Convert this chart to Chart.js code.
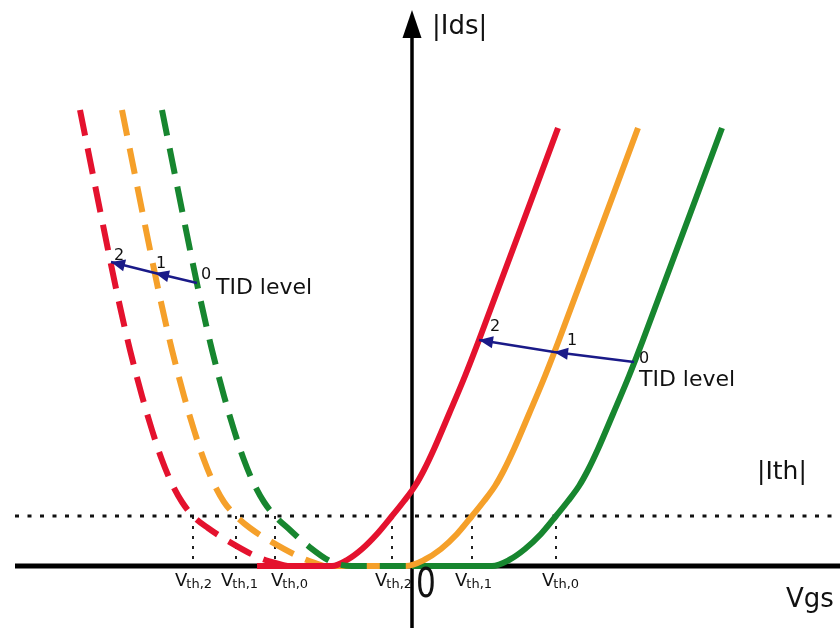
<!DOCTYPE html>
<html>
<head>
<meta charset="utf-8">
<script src="https://cdn.jsdelivr.net/npm/chart.js@4.4.1/dist/chart.umd.min.js"></script>
<style>
  html, body { margin: 0; padding: 0; background: #ffffff; }
  canvas { display: block; }
</style>
</head>
<body>
<canvas id="c" width="840" height="628"></canvas>
<script>
// Transfer curves |Ids| vs Vgs for three TID levels (arbitrary units).
// Solid: n-type branch, dashed: p-type branch.
const ithLevel = 0.5;                 // threshold current |Ith|
const tidLevels = ['0', '1', '2'];

// p-type branches (dashed), [Vgs, |Ids|]
const pTid0 = [[-2.50,4.56],[-2.28,3.46],[-2.13,2.73],[-2.00,2.16],[-1.88,1.70],[-1.78,1.36],[-1.68,1.06],[-1.58,0.82],[-1.48,0.64],[-1.37,0.50],[-1.22,0.36],[-1.05,0.21],[-0.80,0.04],[-0.60,0.00],[0.00,0.00]];
const pTid1 = [[-2.90,4.56],[-2.68,3.46],[-2.53,2.73],[-2.40,2.16],[-2.28,1.70],[-2.18,1.36],[-2.08,1.06],[-1.98,0.82],[-1.88,0.64],[-1.76,0.50],[-1.62,0.38],[-1.42,0.25],[-1.10,0.08],[-0.88,0.00]];
const pTid2 = [[-3.32,4.56],[-3.10,3.46],[-2.95,2.73],[-2.82,2.16],[-2.70,1.70],[-2.60,1.36],[-2.50,1.06],[-2.40,0.82],[-2.30,0.64],[-2.19,0.50],[-2.04,0.38],[-1.84,0.25],[-1.52,0.08],[-1.25,0.00]];

// n-type branches (solid), [Vgs, |Ids|]
const nTid0 = [[0.00,0.00],[0.80,0.00],[0.97,0.06],[1.13,0.17],[1.29,0.32],[1.44,0.50],[1.56,0.65],[1.67,0.80],[1.76,0.96],[1.86,1.17],[2.01,1.52],[2.17,1.90],[2.31,2.26],[3.10,4.38]];
const nTid1 = [[-1.00,0.00],[-0.06,0.00],[0.12,0.06],[0.29,0.17],[0.45,0.32],[0.60,0.50],[0.72,0.65],[0.83,0.80],[0.92,0.96],[1.02,1.17],[1.17,1.52],[1.33,1.90],[1.47,2.26],[2.26,4.38]];
const nTid2 = [[-1.55,0.00],[-0.80,0.00],[-0.65,0.06],[-0.50,0.17],[-0.35,0.32],[-0.20,0.50],[-0.08,0.65],[0.03,0.80],[0.12,0.96],[0.22,1.17],[0.37,1.52],[0.53,1.90],[0.67,2.26],[1.46,4.38]];

// threshold voltages where each branch crosses |Ith|
const vthP = [-1.37, -1.76, -2.19];   // TID 0, 1, 2
const vthN = [1.44, 0.60, -0.20];     // TID 0, 1, 2
const vthTags = ['th,0', 'th,1', 'th,2'];

// TID arrows: points on the TID 0 -> 1 -> 2 curves
const tidArrowP = [[-2.15,2.83],[-2.57,2.93],[-3.01,3.04]];
const tidArrowN = [[2.22,2.04],[1.42,2.14],[0.67,2.26]];

const axisLeft = -3.97, axisRight = 4.28, axisTop = 5.56;

const RED = '#e4122e', ORANGE = '#f5a02a', GREEN = '#17862f', NAVY = '#1a1a88';
const pts = a => a.map(p => ({ x: p[0], y: p[1] }));

function curve(data, color, dashed, order) {
  return {
    data: pts(data), borderColor: color, borderWidth: 6,
    borderDash: dashed ? [26, 13] : [], pointRadius: 0,
    cubicInterpolationMode: 'monotone', order: order, fill: false
  };
}
function guide(data, color, width, dash, order) {
  return { data: pts(data), borderColor: color, borderWidth: width, borderDash: dash,
           pointRadius: 0, tension: 0, order: order, fill: false };
}

const datasets = [
  curve(pTid0, GREEN, true, 1),
  curve(nTid2, RED, false, 2),
  curve(nTid1, ORANGE, false, 3),
  curve(nTid0, GREEN, false, 4),
  curve(pTid1, ORANGE, true, 5),
  curve(pTid2, RED, true, 6),
  guide(tidArrowP, NAVY, 2.5, [], 0),
  guide(tidArrowN, NAVY, 2.5, [], 0),
  guide([[axisLeft, ithLevel], [axisRight, ithLevel]], '#111', 3, [4, 8.5], 9),
  guide([[axisLeft, 0], [axisRight, 0]], '#000', 5, [], 8),
  guide([[0, -0.62], [0, axisTop - 0.22]], '#000', 3.5, [], 8)
];
vthP.concat(vthN).forEach(v => datasets.push(guide([[v, ithLevel], [v, 0]], '#222', 2, [3, 7], 9)));

const annotations = {
  id: 'annotations',
  afterDatasetsDraw(chart) {
    const { ctx, scales } = chart;
    const X = v => scales.x.getPixelForValue(v);
    const Y = v => scales.y.getPixelForValue(v);
    ctx.save();

    // arrowhead of the |Ids| axis
    ctx.fillStyle = '#000';
    ctx.beginPath();
    ctx.moveTo(X(0), Y(axisTop));
    ctx.lineTo(X(0) - 9.5, Y(axisTop) + 28);
    ctx.lineTo(X(0) + 9.5, Y(axisTop) + 28);
    ctx.closePath();
    ctx.fill();

    // arrowheads along the TID arrows
    ctx.fillStyle = NAVY;
    [tidArrowP, tidArrowN].forEach(arr => {
      for (let i = 1; i < arr.length; i++) {
        const x0 = X(arr[i - 1][0]), y0 = Y(arr[i - 1][1]);
        const x1 = X(arr[i][0]), y1 = Y(arr[i][1]);
        const a = Math.atan2(y1 - y0, x1 - x0);
        ctx.beginPath();
        ctx.moveTo(x1, y1);
        ctx.lineTo(x1 - 14 * Math.cos(a) + 6 * Math.sin(a), y1 - 14 * Math.sin(a) - 6 * Math.cos(a));
        ctx.lineTo(x1 - 14 * Math.cos(a) - 6 * Math.sin(a), y1 - 14 * Math.sin(a) + 6 * Math.cos(a));
        ctx.closePath();
        ctx.fill();
      }
    });

    // TID level numbers
    ctx.fillStyle = '#111';
    ctx.font = '16px "DejaVu Sans"';
    ctx.textBaseline = 'top';
    const offP = [[4, -16], [1, -17], [3, -14]];
    const offN = [[5, -11], [13, -19], [11, -21]];
    tidArrowP.forEach((p, i) => ctx.fillText(tidLevels[i], X(p[0]) + offP[i][0], Y(p[1]) + offP[i][1]));
    tidArrowN.forEach((p, i) => ctx.fillText(tidLevels[i], X(p[0]) + offN[i][0], Y(p[1]) + offN[i][1]));

    ctx.textBaseline = 'alphabetic';
    ctx.font = '22px "DejaVu Sans"';
    ctx.fillText('TID level', 216, 294);
    ctx.fillText('TID level', 639, 386);

    // axis titles
    ctx.font = '26px "DejaVu Sans"';
    ctx.fillText('|Ids|', X(0) + 20, 34);
    ctx.fillText('Vgs', 786, 607);
    ctx.font = '25px "DejaVu Sans"';
    ctx.fillText('|Ith|', 757, 479);

    // origin
    ctx.save();
    ctx.translate(X(0) + 4, Y(0) + 31);
    ctx.scale(0.78, 1);
    ctx.font = '40px "DejaVu Sans"';
    ctx.fillText('0', 0, 0);
    ctx.restore();

    // threshold voltage labels (left edge offset from the drop line)
    const vthLabel = (v, tag, shift) => {
      ctx.font = '18px "DejaVu Sans"';
      const wV = ctx.measureText('V').width;
      const x0 = X(v) - shift;
      ctx.fillText('V', x0, Y(0) + 20);
      ctx.font = '13px "DejaVu Sans"';
      ctx.fillText(tag, x0 + wV - 1, Y(0) + 22);
    };
    const shiftP = [4, 15, 18];
    const shiftN = [14, 17, 17];
    vthP.forEach((v, i) => vthLabel(v, vthTags[i], shiftP[i]));
    vthN.forEach((v, i) => vthLabel(v, vthTags[i], shiftN[i]));

    ctx.restore();
  }
};

new Chart(document.getElementById('c'), {
  type: 'line',
  data: { datasets },
  options: {
    responsive: false,
    animation: false,
    layout: { padding: 0 },
    plugins: { legend: { display: false }, tooltip: { enabled: false } },
    scales: {
      x: { type: 'linear', min: -4.12, max: 4.28, display: false },
      y: { type: 'linear', min: -0.62, max: 5.66, display: false }
    }
  },
  plugins: [annotations]
});
</script>
</body>
</html>
